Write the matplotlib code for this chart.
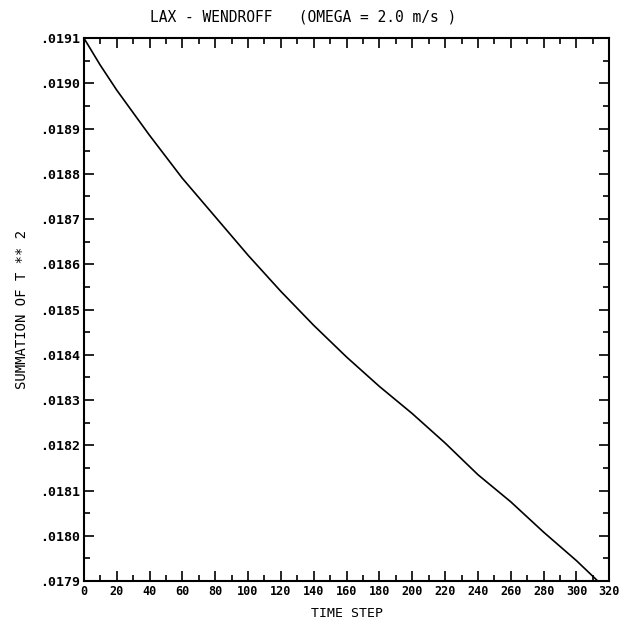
import matplotlib
matplotlib.use('Agg')
import matplotlib.pyplot as plt
from matplotlib.ticker import MultipleLocator, FuncFormatter

# sum of T**2 against time step (Lax-Wendroff run, omega = 2.0 m/s)
time_step = [0, 10, 20, 40, 60, 80, 100, 120, 140, 160, 180, 200,
             220, 240, 260, 280, 300, 313]
sum_t2 = [0.019100, 0.019040, 0.018985, 0.018885, 0.018790, 0.018705,
          0.018620, 0.018540, 0.018465, 0.018395, 0.018330, 0.018270,
          0.018205, 0.018135, 0.018075, 0.018008, 0.017945, 0.017900]

x_ticks = list(range(0, 321, 20))
y_min, y_max = 0.0179, 0.0191

FONT = 'DejaVu Sans Mono'

fig = plt.figure(figsize=(6.4, 6.23), dpi=100)
ax = fig.add_axes([0.131, 0.0674, 0.821, 0.8716])

ax.plot(time_step, sum_t2, '-', color='black', lw=1.2)

ax.set_xlim(0, 320)
ax.set_ylim(y_min, y_max)
ax.set_xticks(x_ticks)
ax.xaxis.set_minor_locator(MultipleLocator(10))
ax.yaxis.set_major_locator(MultipleLocator(0.0001))
ax.yaxis.set_minor_locator(MultipleLocator(0.00005))
ax.yaxis.set_major_formatter(FuncFormatter(lambda v, p: f'{v:.4f}'.lstrip('0')))

ax.tick_params(which='both', direction='in', top=True, right=True,
               color='black', width=1.2)
ax.tick_params(which='major', length=7, pad=3)
ax.tick_params(which='minor', length=4)
ax.tick_params(axis='x', labelsize=8.5)
ax.tick_params(axis='y', labelsize=9.5)
for lab in ax.get_xticklabels() + ax.get_yticklabels():
    lab.set_fontfamily(FONT)
    lab.set_fontweight('bold')
for s in ax.spines.values():
    s.set_linewidth(1.5)

ax.set_xlabel('TIME STEP', family=FONT, fontsize=9.5, labelpad=6)
ax.set_ylabel('SUMMATION OF T ** 2', family=FONT, fontsize=10, labelpad=8)
fig.text(0.474, 0.973, 'LAX - WENDROFF   (OMEGA = 2.0 m/s )', family=FONT,
         fontsize=10.5, ha='center', va='center')

fig.savefig('out.png', dpi=100, facecolor='white')
